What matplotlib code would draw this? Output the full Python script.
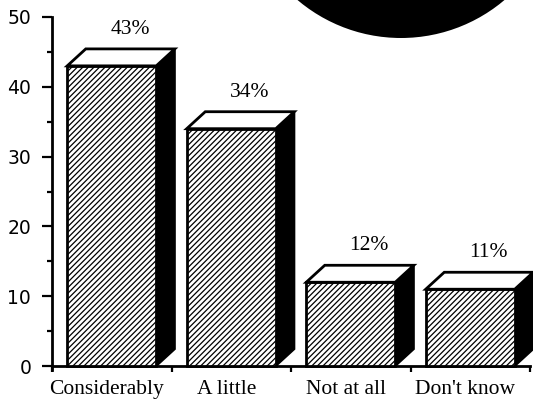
import matplotlib
matplotlib.use("Agg")
import matplotlib.pyplot as plt
from matplotlib.patches import Polygon, Rectangle, Ellipse

categories = ["Considerably", "A little", "Not at all", "Don't know"]
values = [43, 34, 12, 11]
pct_labels = ["43%", "34%", "12%", "11%"]

plt.rcParams["hatch.linewidth"] = 0.9

W, H = 533, 404
fig = plt.figure(figsize=(W / 100, H / 100), dpi=100)
ax = fig.add_axes([52 / W, 1 - 366 / H, 478 / W, 349 / H])

ax.set_xlim(-0.5, 3.5)
ax.set_ylim(0, 50)

bar_w = 0.745
dx = 0.155   # depth, x data units
dy = 2.43    # depth, y data units

for i, v in enumerate(values):
    x0 = i - bar_w / 2
    x1 = i + bar_w / 2
    # black side face
    ax.add_patch(Polygon([(x1, 0), (x1 + dx, dy), (x1 + dx, v + dy), (x1, v)],
                         closed=True, facecolor="black", edgecolor="black",
                         linewidth=1.5, clip_on=False, zorder=2))
    # front face, hatched
    ax.add_patch(Rectangle((x0, 0), bar_w, v, facecolor="white", edgecolor="black",
                           hatch="//////", linewidth=2, clip_on=False, zorder=3))
    # top face
    ax.add_patch(Polygon([(x0, v), (x1, v), (x1 + dx, v + dy), (x0 + dx, v + dy)],
                         closed=True, facecolor="white", edgecolor="black",
                         linewidth=2, joinstyle="miter", clip_on=False, zorder=3))
    ax.text(i + dx, v + dy + 2.8, pct_labels[i], ha="center", va="center",
            family="Liberation Serif", fontsize=15.5)

# spines / ticks
for s in ["top", "right"]:
    ax.spines[s].set_visible(False)
ax.spines["left"].set_linewidth(2)
ax.spines["bottom"].set_linewidth(2)
ax.spines["left"].set_bounds(-0.6, 50)

ax.set_yticks(range(0, 51, 10))
ax.set_yticks(range(5, 50, 10), minor=True)
ax.tick_params(axis="y", which="major", length=7, width=1.6, pad=8,
               labelsize=13.5, direction="out")
ax.tick_params(axis="y", which="minor", length=3.5, width=1.6, direction="out")

ax.set_xticks([-0.5, 0.5, 1.5, 2.5, 3.5])
ax.set_xticklabels([])
ax.set_xticks([i - 0.04 for i in range(len(categories))], minor=True)
ax.set_xticklabels(categories, minor=True, family="Liberation Serif", fontsize=15.5)
ax.tick_params(axis="x", which="minor", length=0, pad=10)
ax.tick_params(axis="x", which="major", length=4, width=1.6, direction="out")

# black disc at top right
fig.patches.append(Ellipse((401 / W, 1 + 122 / H), 2 * 160 / W, 2 * 160 / H,
                           transform=fig.transFigure, facecolor="black",
                           edgecolor="none"))

fig.savefig("out.png", dpi=100)
